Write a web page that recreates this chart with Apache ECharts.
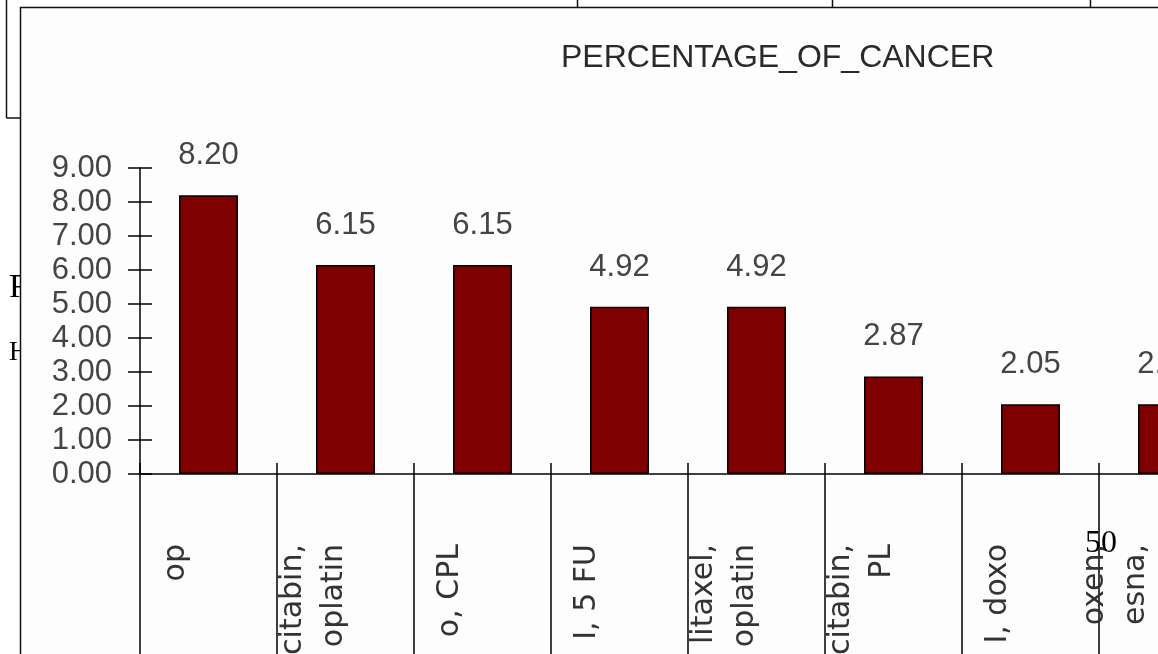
<!DOCTYPE html>
<html>
<head>
<meta charset="utf-8">
<script src="https://cdn.jsdelivr.net/npm/echarts@6/dist/echarts.min.js"></script>
<style>
html,body{margin:0;padding:0;background:#fff;overflow:hidden;width:1158px;height:654px;}
#main{width:1236px;height:654px;}
</style>
</head>
<body>
<div id="main"></div>
<script>
const titleText = 'PERCENTAGE_OF_CANCER';
const categories = ['op', 'citabin,\noplatin', 'o, CPL', 'I, 5 FU', 'litaxel,\noplatin', 'citabin,\nPL', 'I, doxo', 'oxen,\nesna,'];
const values = [8.20, 6.15, 6.15, 4.92, 4.92, 2.87, 2.05, 2.05];
const yMin = 0, yMax = 9, yStep = 1;

const chart = echarts.init(document.getElementById('main'), null, {renderer: 'canvas'});
const FONT = '"Liberation Sans", Arial, sans-serif';
const CATFONT = '"DejaVu Sans", "Liberation Sans", sans-serif';
const SERIF = '"Liberation Serif", "Times New Roman", serif';

chart.setOption({
  backgroundColor: '#ffffff',
  animation: false,
  title: {
    text: titleText,
    left: 556,
    top: 37,
    textStyle: {fontFamily: FONT, fontSize: 32, fontWeight: 'normal', color: '#2a2a2a'}
  },
  grid: {left: 140, top: 168, width: 1096, height: 306, containLabel: false, outerBoundsMode: 'none'},
  xAxis: [{
    type: 'category',
    data: categories,
    position: 'bottom',
    z: 10,
    axisLine: {show: true, lineStyle: {color: '#000', width: 1.5}},
    axisTick: {show: true, inside: false, length: 185, alignWithLabel: false, lineStyle: {color: '#000', width: 1.5}},
    axisLabel: {
      interval: 0, rotate: 90, margin: 70,
      fontFamily: CATFONT, fontSize: 30, lineHeight: 41, color: '#333',
      formatter: (v, i) => v + (i === categories.length - 1 ? '\n{g2|\u00a0}' : '\n{g|\u00a0}'),
      rich: {
        g: {fontSize: 10, lineHeight: 64, height: 64},
        g2: {fontSize: 10, lineHeight: 104, height: 104}
      }
    },
    splitLine: {show: false}
  }, {
    type: 'category',
    data: categories,
    position: 'bottom',
    z: 10,
    axisLine: {show: false},
    axisTick: {show: true, inside: true, length: 11, alignWithLabel: false, lineStyle: {color: '#000', width: 1.5}},
    axisLabel: {show: false},
    splitLine: {show: false}
  }],
  yAxis: [{
    type: 'value',
    min: yMin, max: yMax, interval: yStep,
    z: 10,
    axisLine: {show: true, lineStyle: {color: '#000', width: 1.5}},
    axisTick: {show: true, inside: false, length: 12, lineStyle: {color: '#000', width: 1.5}},
    axisLabel: {margin: 28, fontFamily: FONT, fontSize: 31, color: '#444', formatter: v => v.toFixed(2)},
    splitLine: {show: false}
  }, {
    type: 'value',
    position: 'left',
    min: yMin, max: yMax, interval: yStep,
    z: 10,
    axisLine: {show: false},
    axisTick: {show: true, inside: true, length: 12, lineStyle: {color: '#000', width: 1.5}},
    axisLabel: {show: false},
    splitLine: {show: false}
  }],
  series: [{
    type: 'bar',
    data: values,
    xAxisIndex: 0,
    yAxisIndex: 0,
    barWidth: 59,
    itemStyle: {color: '#7f0000', borderColor: '#000', borderWidth: 1.5},
    label: {
      show: true, position: 'top', distance: 24,
      fontFamily: FONT, fontSize: 31, color: '#444',
      formatter: p => p.value.toFixed(2)
    },
    z: 12
  }],
  graphic: [
    {type: 'text', z: -2, left: 9, top: 271, style: {text: 'R', font: '34px ' + SERIF, fill: '#000'}},
    {type: 'text', z: -2, left: 9, top: 339, style: {text: 'H', font: '27px ' + SERIF, fill: '#000'}},
    {type: 'rect', z: -1, shape: {x: 20.5, y: 7.5, width: 1300, height: 700}, style: {fill: '#fdfdfd', stroke: '#111', lineWidth: 1.5}},
    {type: 'line', z: -1, shape: {x1: 6.5, y1: 0, x2: 6.5, y2: 118}, style: {stroke: '#111', lineWidth: 1.5}},
    {type: 'line', z: -1, shape: {x1: 6.5, y1: 118, x2: 21, y2: 118}, style: {stroke: '#111', lineWidth: 1.5}},
    {type: 'line', z: -1, shape: {x1: 577.5, y1: 0, x2: 577.5, y2: 8}, style: {stroke: '#111', lineWidth: 1.5}},
    {type: 'line', z: -1, shape: {x1: 832.5, y1: 0, x2: 832.5, y2: 8}, style: {stroke: '#111', lineWidth: 1.5}},
    {type: 'line', z: -1, shape: {x1: 1090.5, y1: 0, x2: 1090.5, y2: 8}, style: {stroke: '#111', lineWidth: 1.5}},
    {type: 'text', z: 100, left: 1085, top: 528, style: {text: '50', font: '32px ' + SERIF, fill: '#000'}}
  ]
});
</script>
</body>
</html>
